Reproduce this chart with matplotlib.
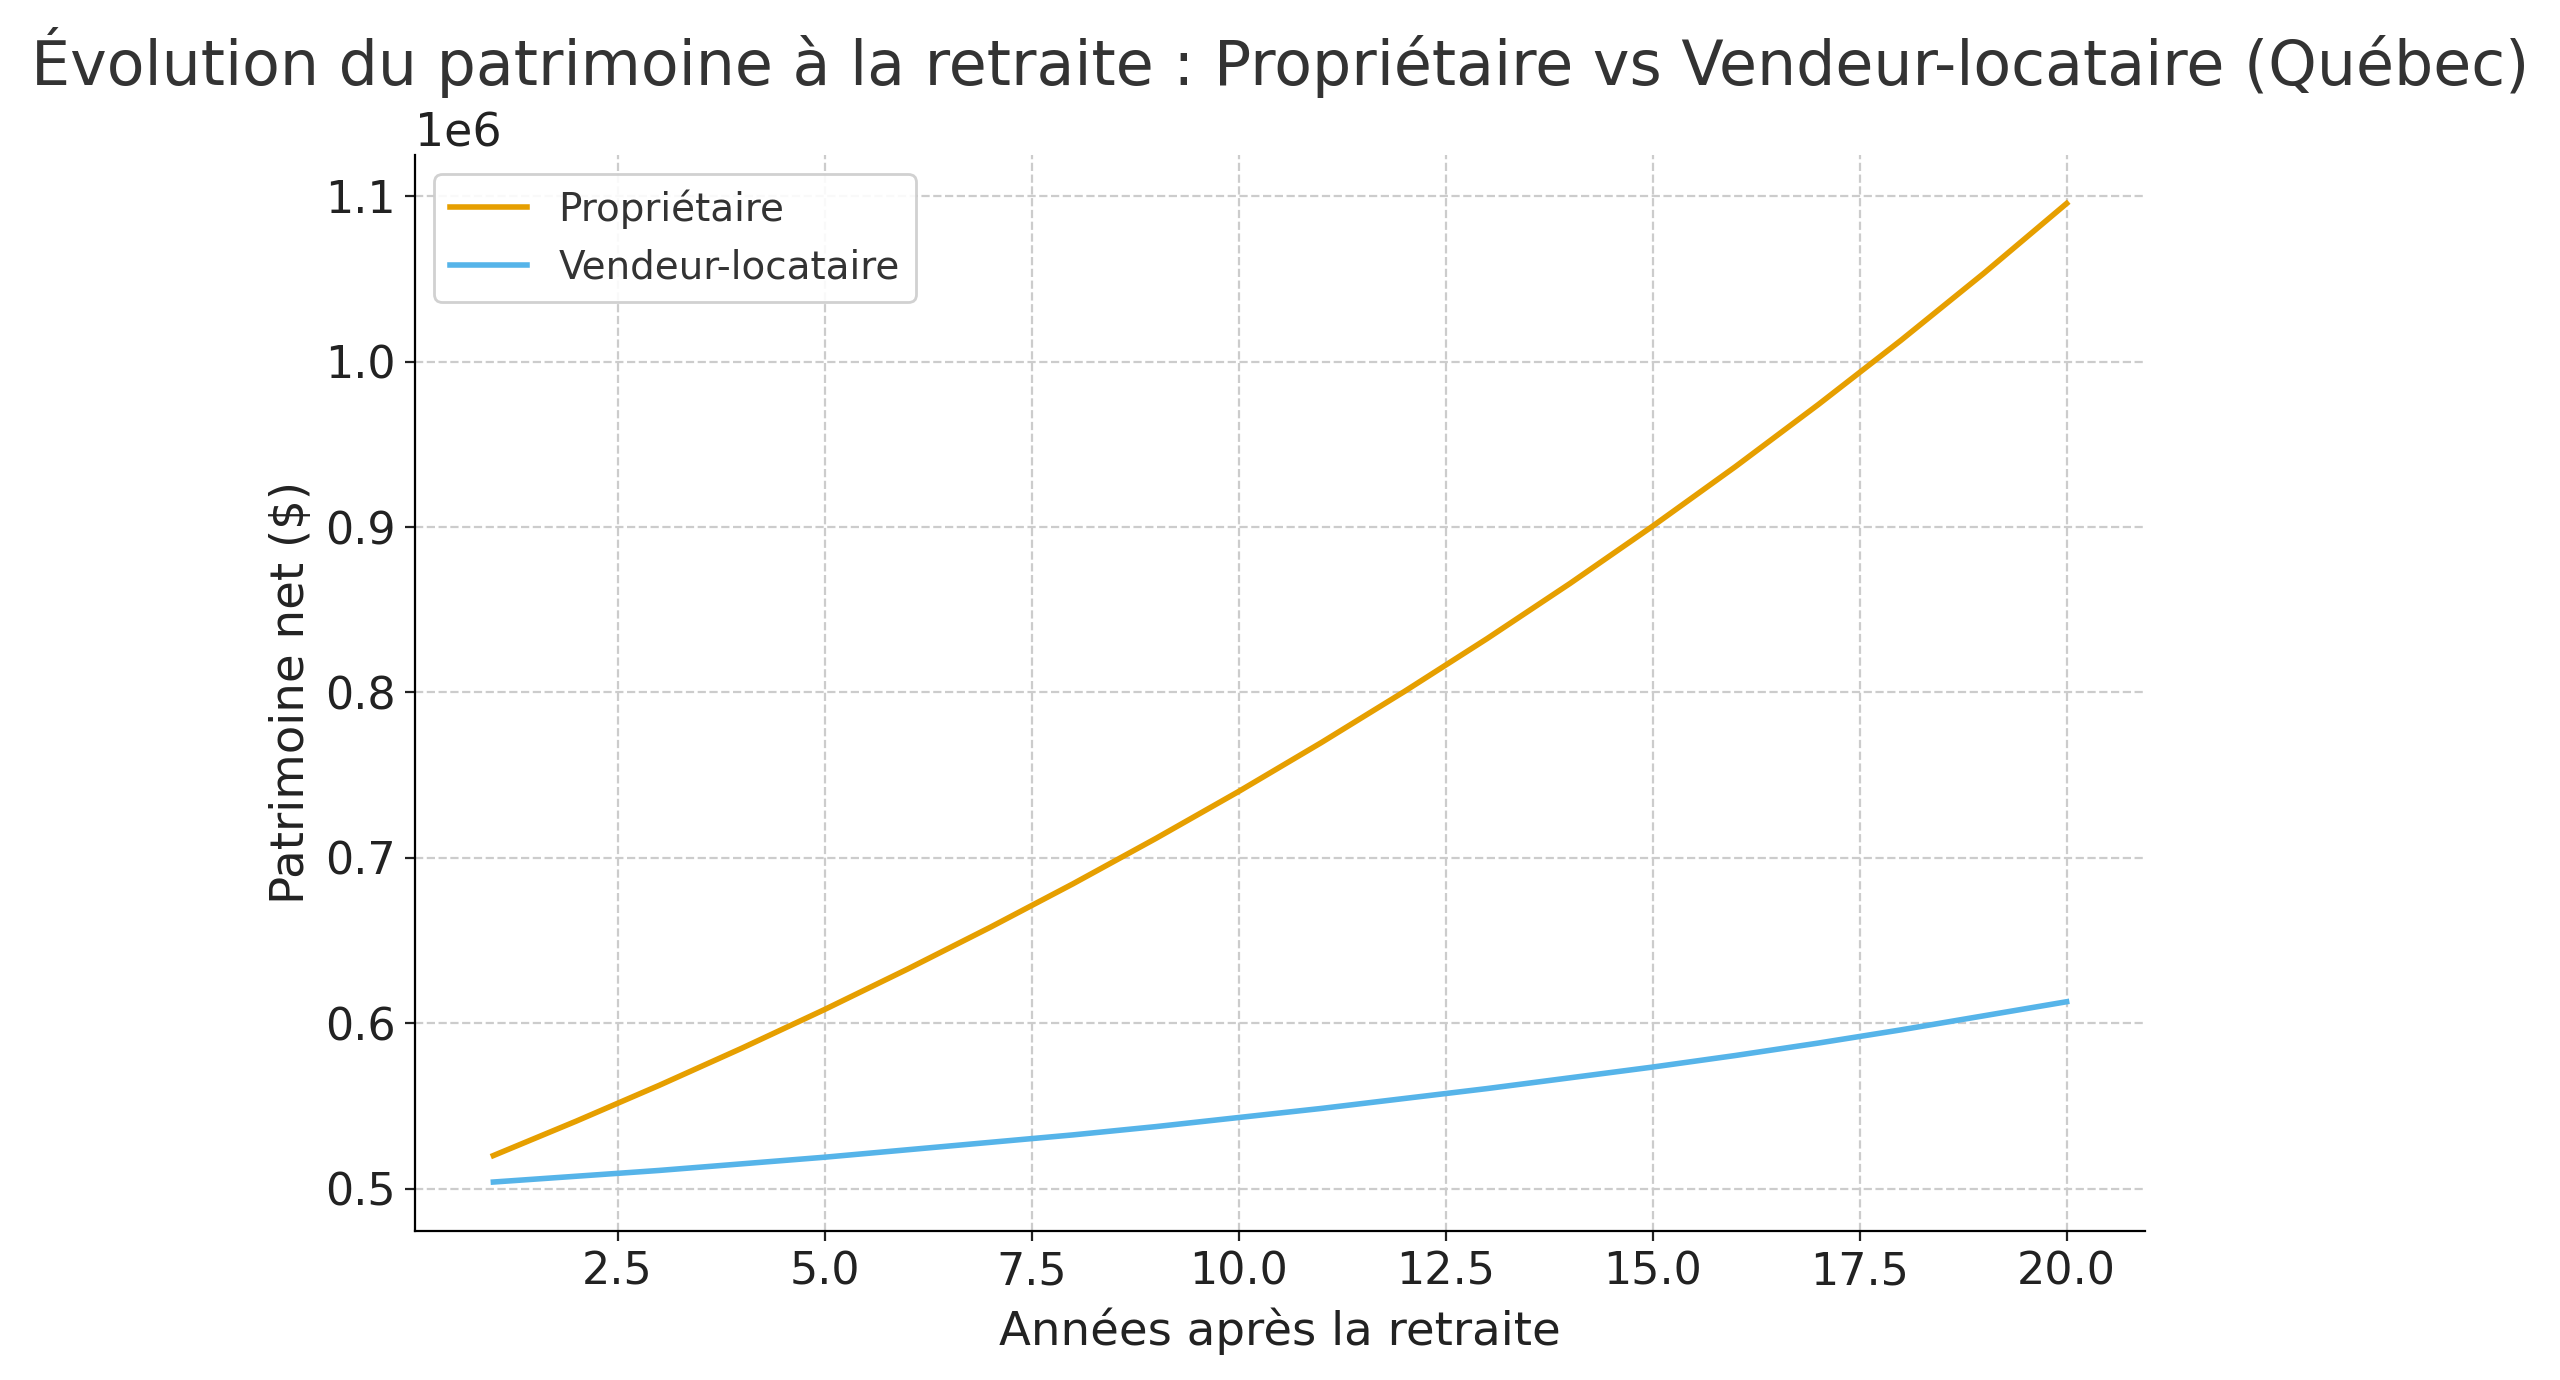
import numpy as np
import matplotlib
matplotlib.use("Agg")
import matplotlib.pyplot as plt

# Données
annees = list(range(1, 21))
proprietaire = [520000, 540800, 562400, 584900, 608300, 632700, 658000, 684300,
                711700, 740100, 769700, 800500, 832500, 865800, 900500, 936500,
                974000, 1012900, 1053400, 1095600]
vendeur_locataire = [504000, 507500, 511000, 515000, 519000, 523500, 528000, 532500,
                     537500, 543000, 548500, 554500, 560500, 567000, 573500, 580500,
                     588000, 596000, 604500, 613000]

plt.rcParams['font.family'] = ['DejaVu Sans']

fig, ax = plt.subplots(figsize=(12.8, 6.9), dpi=200)
fig.subplots_adjust(left=0.162, right=0.838, top=0.888, bottom=0.108)

ax.plot(annees, proprietaire, color='#E69F00', lw=2, label='Propriétaire')
ax.plot(annees, vendeur_locataire, color='#56B4E9', lw=2, label='Vendeur-locataire')

ax.set_title("Évolution du patrimoine à la retraite : Propriétaire vs Vendeur-locataire (Québec)",
             fontsize=22.3, color='#333333', pad=9.5)
ax.set_xlabel("Années après la retraite", fontsize=16.8, color='#222222', labelpad=5)
ax.set_ylabel("Patrimoine net ($)", fontsize=16.8, color='#222222')
ax.tick_params(labelsize=16, colors='#222222')
ax.yaxis.get_offset_text().set_fontsize(16.5)

ax.grid(True, linestyle='--', color='#cccccc', linewidth=0.8)
ax.spines['top'].set_visible(False)
ax.spines['right'].set_visible(False)

leg = ax.legend(loc='upper left', fontsize=14, framealpha=0.9)
for t in leg.get_texts():
    t.set_color('#333333')

plt.savefig('out.png', dpi=200)
